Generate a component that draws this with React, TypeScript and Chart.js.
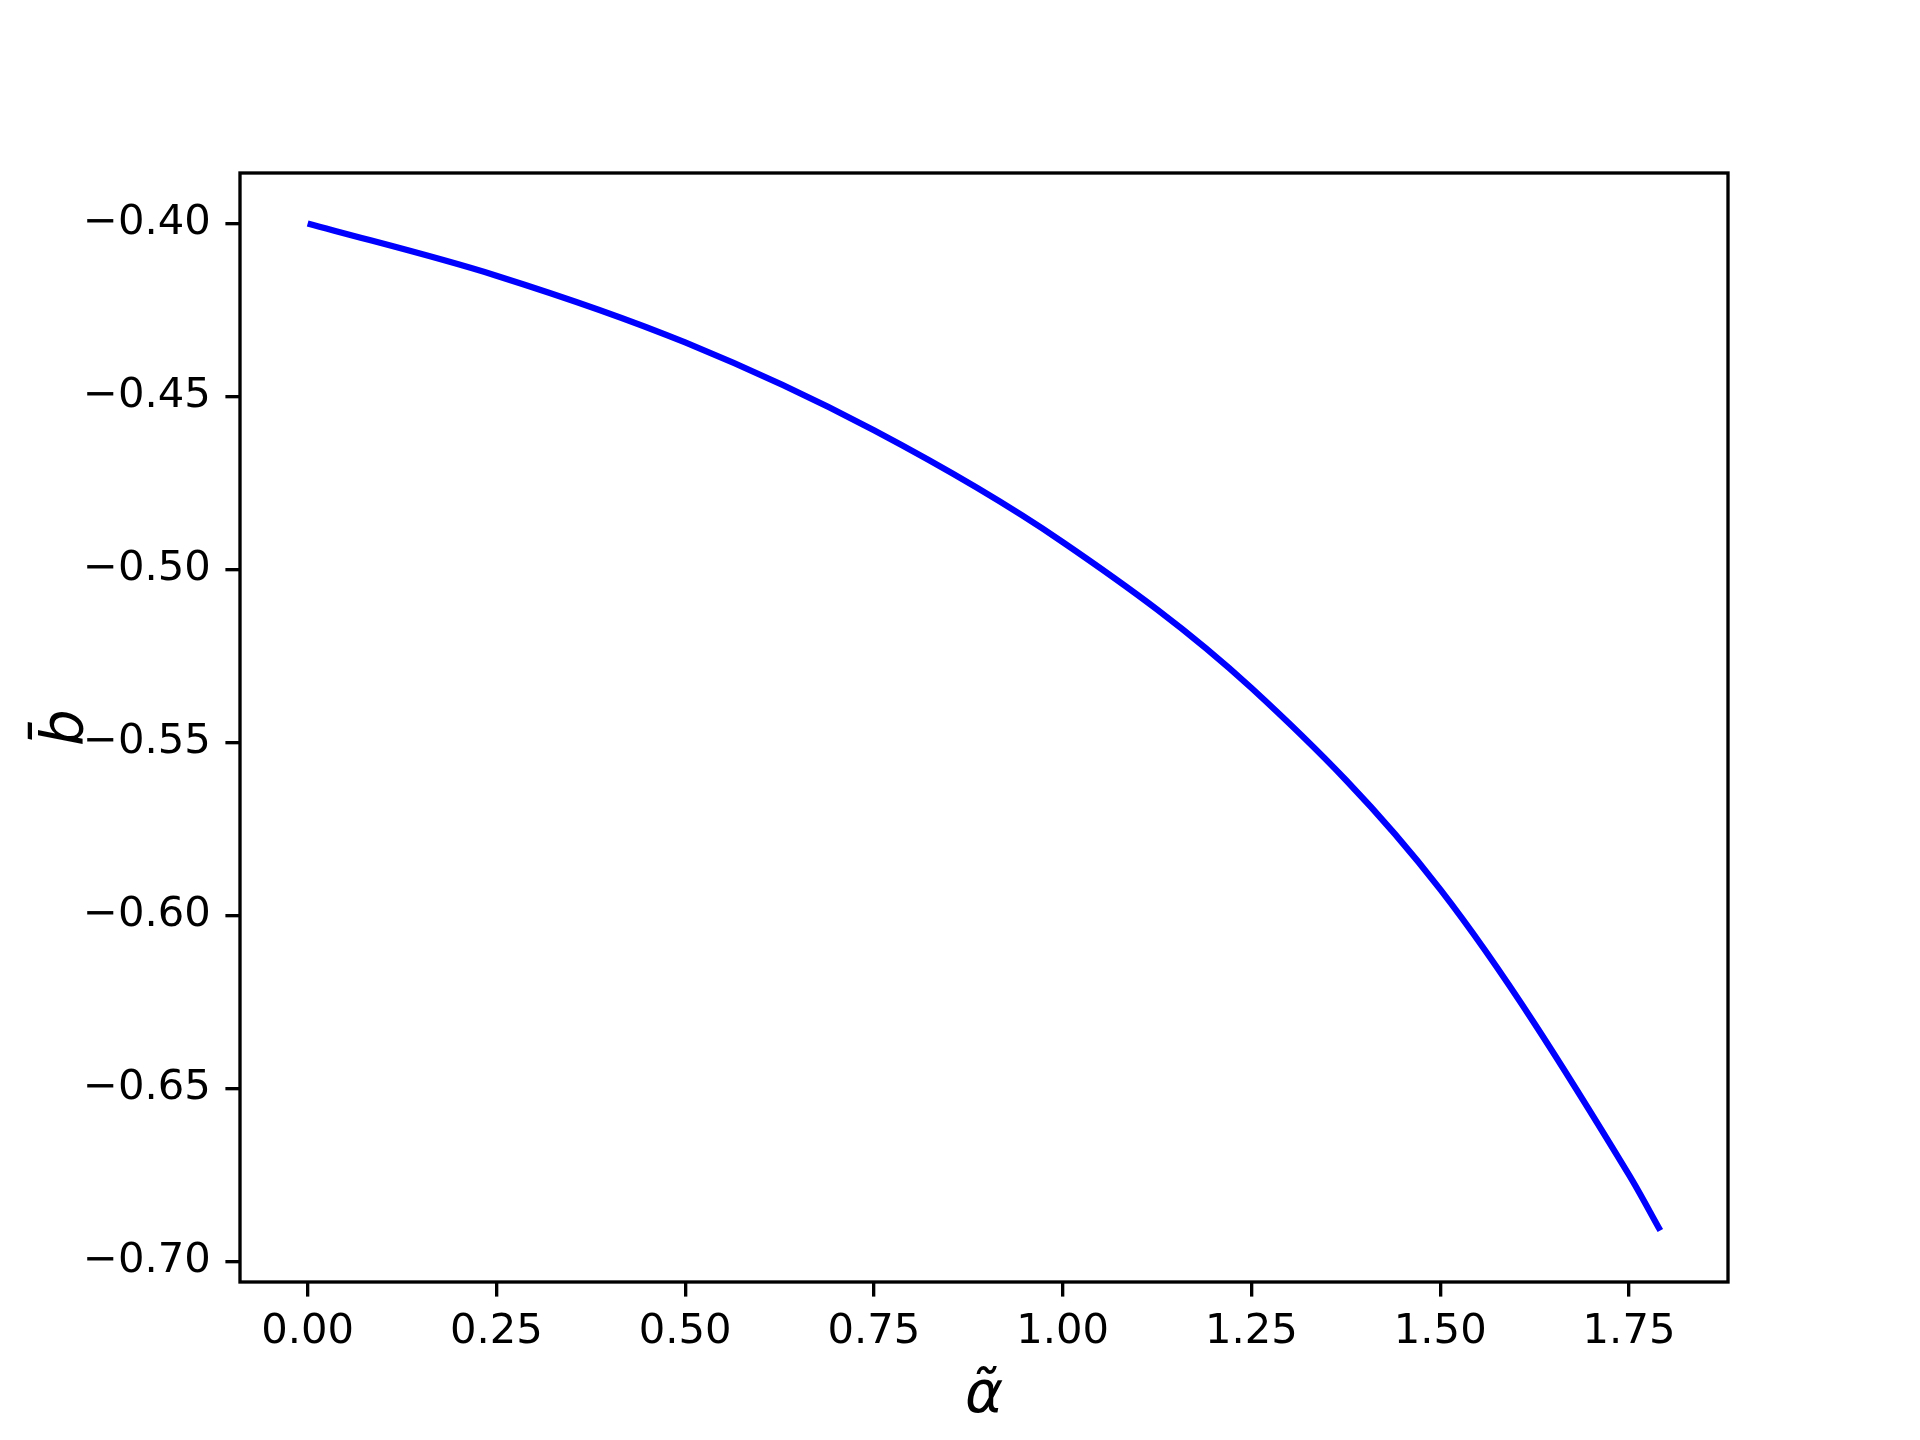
import React, { useEffect, useRef } from "react";
import { Chart, registerables } from "chart.js";

Chart.register(...registerables);

// Data
const alphaValues = [0, 0.25, 0.5, 0.75, 1.0, 1.25, 1.5, 1.75, 1.7915];
const bValues = [-0.4, -0.4151, -0.4344, -0.4598, -0.4921, -0.5343, -0.5925, -0.675, -0.6911];
const xTickValues = [0, 0.25, 0.5, 0.75, 1.0, 1.25, 1.5, 1.75];
const yTickValues = [-0.4, -0.45, -0.5, -0.55, -0.6, -0.65, -0.7];

const X_MIN = -0.0896;
const X_MAX = 1.8811;
const Y_MIN = -0.70597;
const Y_MAX = -0.38543;

const fmt = (v: number) => {
  const s = Math.abs(v).toFixed(2);
  return v < -1e-9 ? "\u2212" + s : s;
};

const boxPlugin = {
  id: "box",
  afterDraw(chart: any) {
    const { ctx, chartArea } = chart;
    ctx.save();
    ctx.strokeStyle = "#000";
    ctx.lineWidth = 3.33;
    ctx.strokeRect(chartArea.left, chartArea.top, chartArea.right - chartArea.left, chartArea.bottom - chartArea.top);
    ctx.restore();
  },
};

export default function App() {
  const ref = useRef<HTMLCanvasElement | null>(null);
  useEffect(() => {
    if (!ref.current) return;
    const data = alphaValues.map((x, i) => ({ x, y: bValues[i] }));
    const tickFont = { family: "'DejaVu Sans'", size: 41.7 };
    const chart = new Chart(ref.current, {
      type: "line",
      data: {
        datasets: [
          {
            data,
            borderColor: "#0000ff",
            borderWidth: 6.25,
            pointRadius: 0,
            fill: false,
            cubicInterpolationMode: "monotone",
            borderCapStyle: "butt",
            borderJoinStyle: "round",
          },
        ],
      },
      plugins: [boxPlugin],
      options: {
        animation: false,
        responsive: false,
        devicePixelRatio: 1,
        layout: { padding: { left: 0, right: 192, top: 173, bottom: 0 } },
        plugins: { legend: { display: false }, tooltip: { enabled: false } },
        scales: {
          x: {
            type: "linear",
            min: X_MIN,
            max: X_MAX,
            afterBuildTicks: (s: any) => {
              s.ticks = xTickValues.map((v) => ({ value: v }));
            },
            afterFit: (s: any) => {
              s.height = 158;
            },
            ticks: {
              callback: (v: any) => fmt(Number(v)),
              font: tickFont,
              color: "#000",
              padding: 10.6,
              maxRotation: 0,
              autoSkip: false,
            },
            grid: { drawOnChartArea: false, drawTicks: true, tickLength: 14.6, color: "#000", lineWidth: 3.33 },
            border: { display: false },
            title: {
              display: true,
              text: "\u03B1\u0303",
              font: { family: "'DejaVu Sans'", size: 58, style: "italic", lineHeight: 1.2 },
              color: "#000",
              padding: { top: 0, bottom: 8 },
            },
          },
          y: {
            type: "linear",
            min: Y_MIN,
            max: Y_MAX,
            afterBuildTicks: (s: any) => {
              s.ticks = yTickValues.map((v) => ({ value: v }));
            },
            afterFit: (s: any) => {
              s.width = 240;
            },
            ticks: {
              callback: (v: any) => fmt(Number(v)),
              font: tickFont,
              color: "#000",
              padding: 14.6,
              autoSkip: false,
            },
            grid: { drawOnChartArea: false, drawTicks: true, tickLength: 14.6, color: "#000", lineWidth: 3.33 },
            border: { display: false },
            title: {
              display: true,
              text: "b\u0304",
              font: { family: "'DejaVu Sans'", size: 58, style: "italic", lineHeight: 1.2 },
              color: "#000",
              padding: { top: 33, bottom: 0 },
            },
          },
        },
      },
    } as any);
    return () => chart.destroy();
  }, []);
  return (
    <div style={{ position: "fixed", left: 0, top: 0, width: 1920, height: 1440, background: "#fff" }}>
      <canvas ref={ref} width={1920} height={1440} style={{ width: 1920, height: 1440, display: "block" }} />
    </div>
  );
}
